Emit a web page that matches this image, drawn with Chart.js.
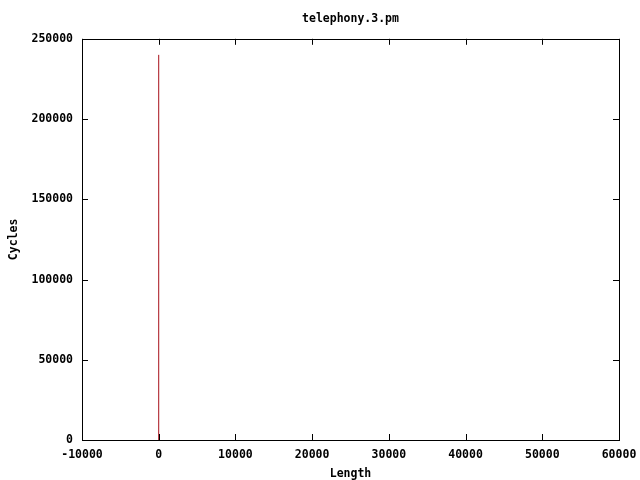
<!DOCTYPE html>
<html>
<head>
<meta charset="utf-8">
<script src="https://cdn.jsdelivr.net/npm/chart.js@4/dist/chart.umd.min.js"></script>
<style>
  body { margin: 0; background: #fff; }
  canvas { display: block; }
</style>
</head>
<body>
<canvas id="chart" width="640" height="480"></canvas>
<script>
// data: a single spike at length 0
const lengths = [0, 0];
const cycles = [0, 240000];

const xTicks = [-10000, 0, 10000, 20000, 30000, 40000, 50000, 60000];
const yTicks = [0, 50000, 100000, 150000, 200000, 250000];

Chart.defaults.font.family = "'DejaVu Sans Mono', monospace";
Chart.defaults.font.weight = "bold";
Chart.defaults.font.size = 11.5;
Chart.defaults.color = "#000";

// gnuplot-like frame with inward ticks on all four sides
const framePlugin = {
  id: "frame",
  afterDraw(chart) {
    const ctx = chart.ctx;
    const a = chart.chartArea;
    const xs = chart.scales.x;
    const ys = chart.scales.y;
    const len = 6;
    ctx.save();
    ctx.strokeStyle = "#000";
    ctx.lineWidth = 1;
    ctx.strokeRect(Math.round(a.left) + 0.5, Math.round(a.top) + 0.5,
      Math.round(a.right - a.left), Math.round(a.bottom - a.top));
    ctx.beginPath();
    xs.ticks.forEach(function (t) {
      const px = Math.round(xs.getPixelForValue(t.value)) + 0.5;
      ctx.moveTo(px, a.bottom);
      ctx.lineTo(px, a.bottom - len);
      ctx.moveTo(px, a.top);
      ctx.lineTo(px, a.top + len);
    });
    ys.ticks.forEach(function (t) {
      const py = Math.round(ys.getPixelForValue(t.value)) + 0.5;
      ctx.moveTo(a.left, py);
      ctx.lineTo(a.left + len, py);
      ctx.moveTo(a.right, py);
      ctx.lineTo(a.right - len, py);
    });
    ctx.stroke();
    ctx.restore();
  },
};

new Chart(document.getElementById("chart"), {
  type: "line",
  data: {
    datasets: [
      {
        label: "telephony.3.pm",
        data: lengths.map(function (x, i) { return { x: x, y: cycles[i] }; }),
        borderColor: "#a8101a",
        borderWidth: 1,
        pointRadius: 0,
        fill: false,
        tension: 0,
      },
    ],
  },
  options: {
    responsive: false,
    animation: false,
    layout: { padding: { left: 0, right: 21, top: 0, bottom: 0 } },
    plugins: {
      legend: { display: false },
      tooltip: { enabled: false },
      title: {
        display: true,
        text: "telephony.3.pm",
        fullSize: false,
        padding: { top: 12, bottom: 13 },
        font: { size: 11.5, weight: "bold" },
      },
    },
    scales: {
      x: {
        type: "linear",
        min: -10000,
        max: 60000,
        afterBuildTicks: function (s) { s.ticks = xTicks.map(function (v) { return { value: v }; }); },
        ticks: { padding: 8, maxRotation: 0, callback: function (v) { return String(v); } },
        grid: { display: false, drawTicks: false },
        border: { display: false },
        title: { display: true, text: "Length", padding: { top: 0, bottom: -1 } },
        afterFit: function (s) {
          s.height = 40;
          s.paddingLeft = 0;
          s.paddingRight = 0;
        },
      },
      y: {
        type: "linear",
        min: 0,
        max: 250000,
        afterBuildTicks: function (s) { s.ticks = yTicks.map(function (v) { return { value: v }; }); },
        ticks: { padding: 9, callback: function (v) { return String(v); } },
        grid: { display: false, drawTicks: false },
        border: { display: false },
        title: { display: true, text: "Cycles", padding: { top: 7, bottom: 0 } },
        afterFit: function (s) {
          s.width = 82;
          s.paddingTop = 0;
          s.paddingBottom = 0;
        },
      },
    },
  },
  plugins: [framePlugin],
});
</script>
</body>
</html>
